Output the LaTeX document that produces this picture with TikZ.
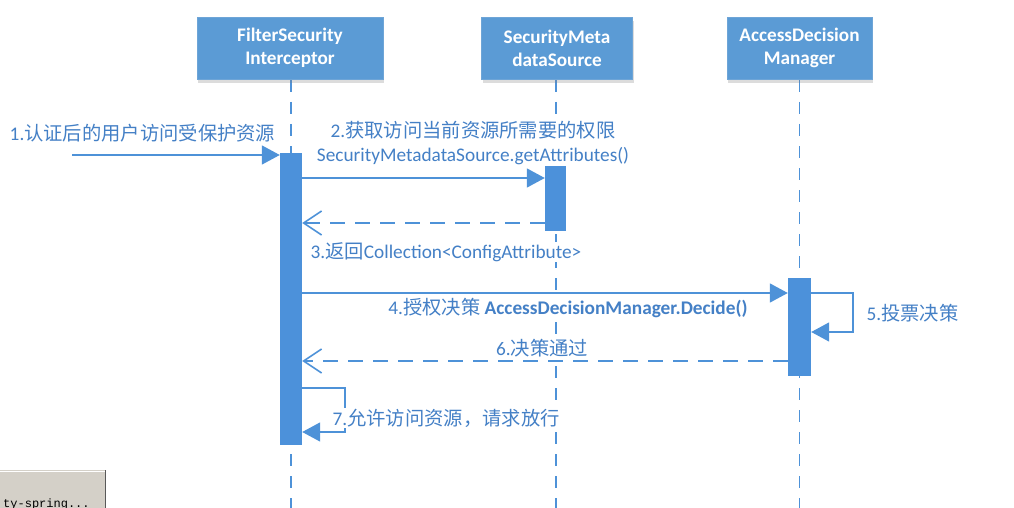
\documentclass[tikz,border=0pt]{standalone}
\usepackage{fontspec}
\setmainfont{Carlito}
\newfontfamily\cjk{Noto Sans CJK SC}
\newfontfamily\btnfont{Liberation Mono}
\usetikzlibrary{arrows.meta,shadows}
\definecolor{boxblue}{RGB}{91,155,213}
\definecolor{boxedge}{RGB}{110,165,215}
\definecolor{barblue}{RGB}{76,145,218}
\definecolor{lineblue}{RGB}{78,146,216}
\definecolor{txtblue}{RGB}{68,128,198}
\definecolor{btngray}{RGB}{212,208,200}
\newcommand\zh[1]{{\cjk #1}}
\begin{document}
\begin{tikzpicture}[x=1pt,y=-1pt,
  actor/.style={draw=boxedge, line width=0.8pt, fill=boxblue, minimum height=62pt,
    text=white, align=center, inner sep=0pt,
    font=\fontsize{19.2}{23}\selectfont\bfseries,
    drop shadow={opacity=0.28, shadow xshift=1pt, shadow yshift=-4pt, fill=gray}},
  bar/.style={fill=barblue, draw=none, minimum width=22pt, inner sep=0pt},
  life/.style={draw=lineblue, line width=1.6pt, dash pattern=on 12pt off 10pt},
  msg/.style={draw=lineblue, line width=1.6pt, -{Triangle[length=18pt,width=19pt]}},
  ret/.style={draw=lineblue, line width=1.6pt, dash pattern=on 15pt off 10pt,
    -{Straight Barb[length=18pt,width=24pt,line width=1.6pt]}},
  lbl/.style={text=txtblue, fill=white, inner sep=0.5pt,
    font=\fontsize{19.3}{24}\selectfont, align=center}]
\useasboundingbox (0,0) rectangle (1014,508);
% lifelines
\coordinate (t1) at (291,80);  \coordinate (b1) at (291,510);
\coordinate (t2) at (556,80);  \coordinate (b2) at (556,510);
\coordinate (t3) at (799.5,80);\coordinate (b3) at (799.5,510);
\draw[life] (t1) -- (b1);
\draw[life] (t2) -- (b2);
\draw[life] (t3) -- (b3);
% actors
\node[actor, minimum width=186pt] (fsi) at (290,48) {FilterSecurity\\Interceptor};
\node[actor, minimum width=151pt] (smd) at (557,48) {SecurityMeta\\dataSource};
\node[actor, minimum width=145pt] (adm) at (799.5,48) {AccessDecision\\Manager};
% activation bars
\node[bar, minimum height=292pt] (a1) at (291,299) {};
\node[bar, minimum width=21pt, minimum height=65pt] (a2) at (555.5,198.5) {};
\node[bar, minimum width=23pt, minimum height=98pt] (a3) at (799.5,327) {};
% messages
\coordinate (s1) at (72,155);
\draw[msg] (s1) -- (s1 -| a1.west);
\draw[msg] (a1.east |- 0,178) -- (a2.west |- 0,178);
\draw[ret] (a2.west |- 0,223) -- (a1.east |- 0,223);
\draw[msg] (a1.east |- 0,293) -- (a3.west |- 0,293);
\coordinate (l5a) at (853,293);
\coordinate (l5b) at (853,332);
\draw[msg] (a3.east |- l5a) -- (l5a) -- (l5b) -- (a3.east |- l5b);
\draw[ret] (a3.west |- 0,361) -- (a1.east |- 0,361);
\coordinate (l7a) at (345,388);
\coordinate (l7b) at (345,432);
\draw[msg] (a1.east |- l7a) -- (l7a) -- (l7b) -- (a1.east |- l7b);
% labels
\node[lbl] (m1) at (142.5,133) {1.\zh{认证后的用户访问受保护资源}};
\node[lbl] (m2) at (473,143) {2.\zh{获取访问当前资源所需要的权限}\\SecurityMetadataSource.getAttributes()};
\node[lbl] (m3) at (446,252) {3.\zh{返回}Collection<ConfigAttribute>};
\node[lbl] (m4) at (568,308) {4.\zh{授权决策} \textbf{AccessDecisionManager.Decide()}};
\node[lbl, anchor=west] (m5) at (866,313) {5.\zh{投票决策}};
\node[lbl] (m6) at (542,348) {6.\zh{决策通过}};
\node[lbl, anchor=west] (m7) at (332,418) {7.\zh{允许访问资源，请求放行}};
% taskbar button (screenshot artifact)
\fill[btngray] (-2,470) rectangle (106,512);
\draw[white, line width=1pt] (-2,471) -- (105,471);
\draw[black!65, line width=1.5pt] (105.5,470) -- (105.5,512);
\node[anchor=base west, inner sep=0pt, font=\btnfont\fontsize{12}{14}\selectfont] (btn) at (3,507) {ty-spring...};
\end{tikzpicture}
\end{document}
